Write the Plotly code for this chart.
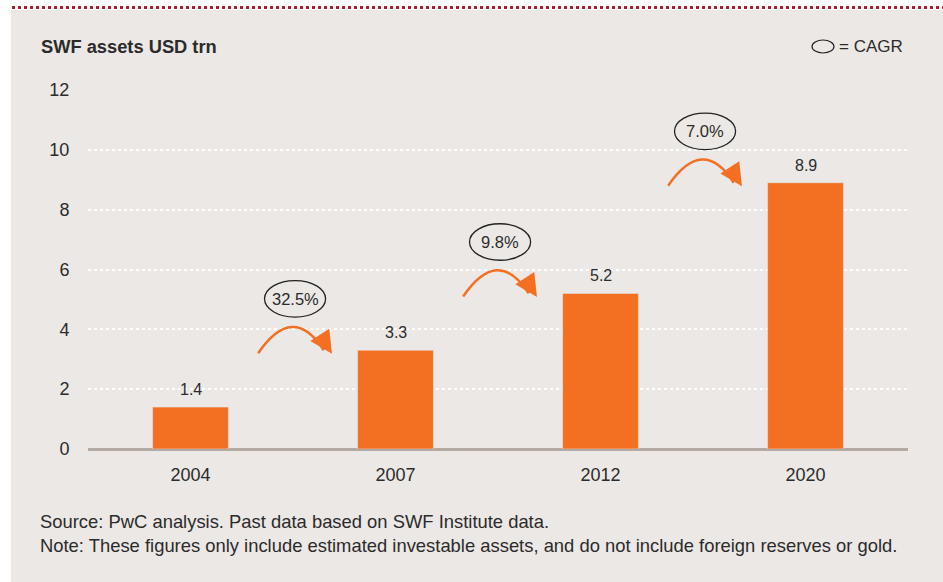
import plotly.graph_objects as go

years = ["2004", "2007", "2012", "2020"]
assets = [1.4, 3.3, 5.2, 8.9]
cagr = ["32.5%", "9.8%", "7.0%"]
y_ticks = [0, 2, 4, 6, 8, 10, 12]

ORANGE = "#F36F21"
PANEL = "#ECE8E5"
TEXT = "#2b2b2b"
FONT = "Liberation Sans, Arial, sans-serif"

W, H = 943, 582
ML, MR, MT, MB = 88, 35, 90, 133
PW, PH = W - ML - MR, H - MT - MB
YMAX = 12


def px_x(xp):
    return (xp - ML) / PW


def px_y(yp):
    return (H - MB - yp) / PH


xs = list(range(len(years)))
fig = go.Figure()
fig.add_trace(go.Bar(
    x=xs, y=assets, marker_color=ORANGE, width=0.37, hoverinfo="skip",
))

shapes = []
annotations = []

# bar value labels
for xi, v in zip(xs, assets):
    annotations.append(dict(x=xi, y=v, xref="x", yref="y", text=f"{v:.1f}", showarrow=False,
                            yanchor="bottom", yshift=7,
                            font=dict(size=16, color=TEXT, family=FONT)))

# white strips (outside the grey panel) and dotted top rule
shapes.append(dict(type="rect", xref="paper", yref="paper", x0=px_x(-2), x1=px_x(11),
                   y0=px_y(H + 2), y1=px_y(-2), fillcolor="white", line_width=0, layer="below"))
shapes.append(dict(type="rect", xref="paper", yref="paper", x0=px_x(-2), x1=px_x(W + 2),
                   y0=px_y(10), y1=px_y(-2), fillcolor="white", line_width=0, layer="below"))
shapes.append(dict(type="line", xref="paper", yref="paper", x0=px_x(12), x1=px_x(W),
                   y0=px_y(7.5), y1=px_y(7.5), line=dict(color="#A32035", width=3, dash="dot")))

# CAGR arrows & ellipses between consecutive bars
upx = PW / len(years)
upy = PH / YMAX
for i, label in enumerate(cagr):
    v = assets[i + 1]
    sx, sy = i + 0.33, v - 0.1
    cx, cy = i + 0.50, v + 1.6
    ex, ey = i + 0.65, v - 0.0
    shapes.append(dict(type="path", xref="x", yref="y",
                       path=f"M {sx},{sy} Q {cx},{cy} {ex},{ey}",
                       line=dict(color=ORANGE, width=2.5)))
    dxp = (ex - cx) * upx
    dyp = (ey - cy) * upy
    norm = (dxp ** 2 + dyp ** 2) ** 0.5
    tipx = ex + 0.04
    tipy = ey - 0.12
    annotations.append(dict(x=tipx, y=tipy, xref="x", yref="y", text="",
                            showarrow=True, arrowhead=2, arrowsize=1.5, arrowwidth=3,
                            arrowcolor=ORANGE, ax=-dxp / norm * 14, ay=dyp / norm * 14,
                            standoff=0))
    ecx, ecy = i + 0.51, v + 1.72
    shapes.append(dict(type="circle", xref="x", yref="y",
                       x0=ecx - 0.149, x1=ecx + 0.149, y0=ecy - 0.61, y1=ecy + 0.61,
                       line=dict(color="#222222", width=1.3)))
    annotations.append(dict(x=ecx, y=ecy, xref="x", yref="y", text=label, showarrow=False,
                            font=dict(size=16.5, color=TEXT, family=FONT)))

# title
annotations.append(dict(x=px_x(39), y=px_y(46), xref="paper", yref="paper", text="<b>SWF assets USD trn</b>",
                        showarrow=False, xanchor="left", yanchor="middle",
                        font=dict(size=18.3, color=TEXT, family=FONT)))
# legend
shapes.append(dict(type="circle", xref="paper", yref="paper", x0=px_x(812), x1=px_x(834),
                   y0=px_y(53), y1=px_y(40), line=dict(color="#222222", width=1.2)))
annotations.append(dict(x=px_x(837), y=px_y(46), xref="paper", yref="paper", text="= CAGR",
                        showarrow=False, xanchor="left", yanchor="middle",
                        font=dict(size=17, color=TEXT, family=FONT)))
# footnotes
annotations.append(dict(x=px_x(38), y=px_y(521), xref="paper", yref="paper",
                        text="Source: PwC analysis. Past data based on SWF Institute data.",
                        showarrow=False, xanchor="left", yanchor="middle",
                        font=dict(size=18.4, color=TEXT, family=FONT)))
annotations.append(dict(x=px_x(38), y=px_y(545), xref="paper", yref="paper",
                        text="Note: These figures only include estimated investable assets, and do not include foreign reserves or gold.",
                        showarrow=False, xanchor="left", yanchor="middle",
                        font=dict(size=18.4, color=TEXT, family=FONT)))

fig.update_layout(
    width=W, height=H, margin=dict(l=ML, r=MR, t=MT, b=MB),
    paper_bgcolor=PANEL, plot_bgcolor=PANEL, showlegend=False,
    shapes=shapes, annotations=annotations,
    xaxis=dict(range=[-0.5, len(years) - 0.5], tickvals=xs, ticktext=years,
               showgrid=False, zeroline=False, showline=False,
               ticks="outside", ticklen=9, tickcolor="rgba(0,0,0,0)",
               tickfont=dict(size=18, color=TEXT, family=FONT), fixedrange=True),
    yaxis=dict(range=[0, YMAX], tickvals=y_ticks, showgrid=True,
               gridcolor="white", griddash="dot", gridwidth=2,
               zeroline=True, zerolinecolor="#B3AAA3", zerolinewidth=2.5,
               showline=False, ticks="outside", ticklen=14, tickcolor="rgba(0,0,0,0)",
               tickfont=dict(size=18, color=TEXT, family=FONT), fixedrange=True),
)

fig.write_html("out.html", config={"displayModeBar": False},
               post_script="document.body.style.margin='0';")
